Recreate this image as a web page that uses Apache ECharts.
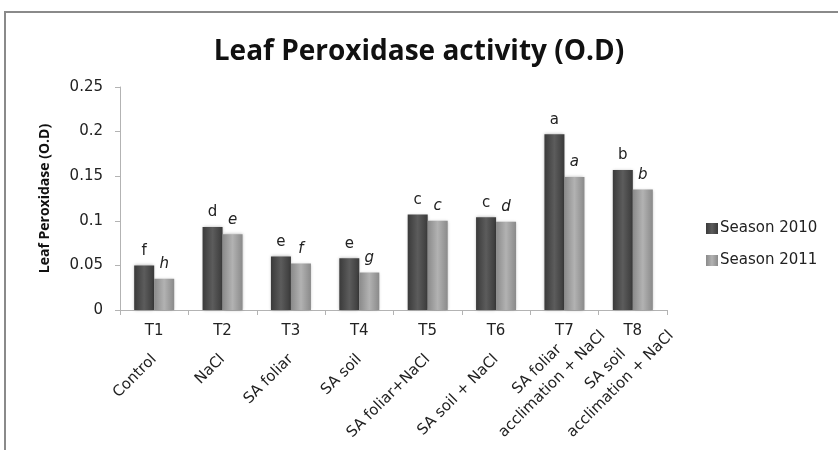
<!DOCTYPE html>
<html>
<head>
<meta charset="utf-8">
<script src="https://cdn.jsdelivr.net/npm/echarts@6/dist/echarts.min.js"></script>
<style>
  html, body { margin: 0; padding: 0; background: #fff; }
  #chart { width: 838px; height: 450px; }
</style>
</head>
<body>
<div id="chart"></div>
<script>
// data
const codes = ['T1', 'T2', 'T3', 'T4', 'T5', 'T6', 'T7', 'T8']
const treatments = ['Control', 'NaCl', 'SA foliar', 'SA soil', 'SA foliar+NaCl', 'SA soil + NaCl',
    'SA foliar\nacclimation + NaCl', 'SA soil\nacclimation + NaCl']
const season2010 = [0.050, 0.093, 0.060, 0.058, 0.107, 0.104, 0.197, 0.157]
const season2011 = [0.035, 0.085, 0.052, 0.042, 0.100, 0.099, 0.149, 0.135]
const letters2010 = ['f', 'd', 'e', 'e', 'c', 'c', 'a', 'b']
const letters2011 = ['h', 'e', 'f', 'g', 'c', 'd', 'a', 'b']
const yTicks = [0, 0.05, 0.1, 0.15, 0.2, 0.25]

const font = 'DejaVu Sans'
const boldFont = 'Open Sans'

// bevel-ish fill like the excel bars
function barFill(edge, mid) {
    return new echarts.graphic.LinearGradient(0, 0, 1, 0, [
        {offset: 0, color: edge},
        {offset: 0.5, color: mid},
        {offset: 1, color: edge}
    ])
}

// two-line names sit a bit further up the axis in the original
const nameData = treatments.map(function (t) {
    if (t.indexOf('\n') < 0) return t
    return {value: t, textStyle: {align: 'center', padding: [0, 56, 0, 0]}}
})

let myChart = echarts.init(document.getElementById('chart'))

let option = {
    backgroundColor: '#fff',
    animation: false,
    title: {
        text: 'Leaf Peroxidase activity (O.D)',
        left: 'center',
        top: 33,
        textStyle: {fontFamily: boldFont, fontSize: 28, fontWeight: 'bold', color: '#111'}
    },
    legend: {
        orient: 'vertical',
        left: 701,
        top: 216,
        itemWidth: 12,
        itemHeight: 11,
        itemGap: 17,
        icon: 'rect',
        textStyle: {fontFamily: font, fontSize: 15, color: '#222', padding: [0, 0, 0, -3]},
        data: ['Season 2010', 'Season 2011']
    },
    graphic: [{
        type: 'rect',
        shape: {x: 5, y: 12, width: 900, height: 500},
        style: {fill: 'none', stroke: '#8a8a8a', lineWidth: 2},
        silent: true
    }],
    grid: {left: 120, right: 171, top: 87, bottom: 140, outerBoundsMode: 'none'},
    xAxis: [{
        type: 'category',
        data: codes,
        axisLine: {lineStyle: {color: '#b3b3b3'}},
        axisTick: {show: true, length: 5, lineStyle: {color: '#b3b3b3'}},
        axisLabel: {interval: 0, margin: 14, fontFamily: font, fontSize: 15, color: '#222'}
    }, {
        type: 'category',
        position: 'bottom',
        data: nameData,
        axisLine: {show: false},
        axisTick: {show: false},
        axisLabel: {interval: 0, rotate: 45, margin: 47, fontFamily: font, fontSize: 15,
            color: '#222', lineHeight: 21}
    }],
    yAxis: {
        type: 'value',
        min: yTicks[0],
        max: yTicks[yTicks.length - 1],
        interval: 0.05,
        name: 'Leaf Peroxidase (O.D)',
        nameLocation: 'middle',
        nameGap: 68,
        nameRotate: 90,
        nameTextStyle: {fontFamily: boldFont, fontSize: 14, fontWeight: 'bold', color: '#111'},
        axisLine: {show: true, lineStyle: {color: '#b3b3b3'}},
        axisTick: {show: true, length: 5, lineStyle: {color: '#b3b3b3'}},
        splitLine: {show: false},
        axisLabel: {margin: 17, fontFamily: font, fontSize: 15, color: '#222'}
    },
    series: [{
        name: 'Season 2010',
        type: 'bar',
        xAxisIndex: 0,
        barWidth: 20,
        barGap: 0,
        data: season2010,
        itemStyle: {color: barFill('#3a3a3a', '#5c5c5c'), shadowBlur: 3, shadowColor: 'rgba(0,0,0,0.3)'},
        label: {
            show: true, position: 'top', distance: 7,
            fontFamily: font, fontSize: 15, color: '#222',
            formatter: function (p) { return letters2010[p.dataIndex] }
        }
    }, {
        name: 'Season 2011',
        type: 'bar',
        xAxisIndex: 0,
        barWidth: 20,
        data: season2011,
        itemStyle: {color: barFill('#8a8a8a', '#b2b2b2'), shadowBlur: 3, shadowColor: 'rgba(0,0,0,0.3)'},
        label: {
            show: true, position: 'top', distance: 7,
            fontFamily: font, fontSize: 15, fontStyle: 'italic', color: '#222',
            formatter: function (p) { return letters2011[p.dataIndex] }
        }
    }]
}

myChart.setOption(option)
</script>
</body>
</html>
